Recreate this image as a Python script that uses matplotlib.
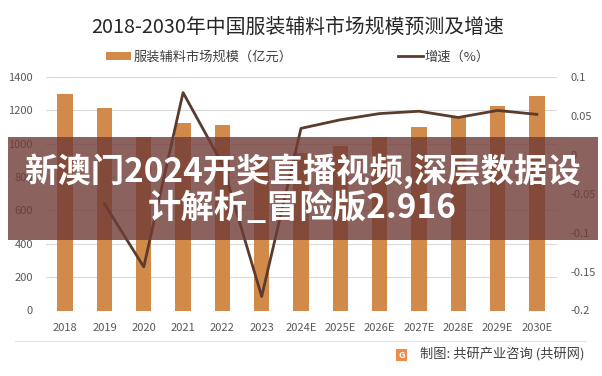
import matplotlib
matplotlib.use("Agg")
import matplotlib.pyplot as plt
import numpy as np
from matplotlib.patches import Rectangle, Patch
from matplotlib.lines import Line2D

plt.rcParams['font.family'] = ['Noto Sans CJK SC', 'DejaVu Sans']

# ---- data ----
years = ['2018', '2019', '2020', '2021', '2022', '2023', '2024E', '2025E',
         '2026E', '2027E', '2028E', '2029E', '2030E']
market_size = [1296, 1212, 1040, 1126, 1112, 910, 945, 985, 1040, 1100, 1160, 1224, 1288]
growth = [np.nan, -0.063, -0.144, 0.080, -0.012, -0.182, 0.034, 0.045, 0.053,
          0.056, 0.048, 0.057, 0.052]
left_ticks = [0, 200, 400, 600, 800, 1000, 1200, 1400]
right_ticks = [-0.2, -0.15, -0.1, -0.05, 0, 0.05, 0.1]
right_labels = ['-0.2', '-0.15', '-0.1', '-0.05', '0', '0.05', '0.1']

title = '2018-2030年中国服装辅料市场规模预测及增速'
bar_label = '服装辅料市场规模（亿元）'
line_label = '增速（%）'
source = '制图: 共研产业咨询 (共研网)'
banner_lines = ['新澳门2024开奖直播视频,深层数据设', '计解析_冒险版2.916']

W, H = 602, 376
fig = plt.figure(figsize=(W / 100, H / 100), dpi=100)
fig.patch.set_facecolor('white')

def fx(px):
    return px / W

def fy(py):
    return 1 - py / H

ax = fig.add_axes([fx(45.5), fy(310.5), fx(556.5) - fx(45.5), fy(77) - fy(310.5)])
x = np.arange(len(years))
bar_color = '#D28A4B'
line_color = '#5B3B2E'
ax.bar(x, market_size, width=0.39, color=bar_color, zorder=2)
ax.set_xlim(-0.5, len(years) - 0.5)
ax.set_ylim(0, 1400)
ax.set_yticks(left_ticks)
ax.set_yticklabels([str(v) for v in left_ticks])
ax.set_xticks(x)
ax.set_xticklabels(years)
ax.grid(axis='y', color='#D9D9D9', linewidth=0.8, zorder=0)
ax.set_axisbelow(True)
for s in ax.spines.values():
    s.set_visible(False)
ax.tick_params(axis='both', length=0, labelsize=8, labelcolor='#595959')
ax.tick_params(axis='y', pad=9)
ax.tick_params(axis='x', pad=9)

ax2 = ax.twinx()
ax2.plot(x, growth, color=line_color, linewidth=2.0, zorder=3)
ax2.set_ylim(-0.2, 0.1)
ax2.set_yticks(right_ticks)
ax2.set_yticklabels(right_labels)
for s in ax2.spines.values():
    s.set_visible(False)
ax2.tick_params(axis='y', length=0, labelsize=8, labelcolor='#595959', pad=10)

# title
fig.text(0.495, fy(27), title, ha='center', va='center', fontsize=14.3, color='#262626')

# legends
h1 = Patch(facecolor=bar_color, edgecolor='none')
h2 = Line2D([0], [0], color=line_color, linewidth=2.0)
leg1 = fig.legend([h1], [bar_label], loc='center left', bbox_to_anchor=(fx(94), fy(57)),
                  frameon=False, fontsize=9.5, handlelength=1.9, handleheight=0.5,
                  handletextpad=0.2, labelcolor='#404040')
leg2 = fig.legend([h2], [line_label], loc='center left', bbox_to_anchor=(fx(386), fy(57)),
                  frameon=False, fontsize=9.5, handlelength=1.9,
                  handletextpad=0.1, labelcolor='#404040')

# separator and source
fig.add_artist(Line2D([fx(15), fx(586)], [fy(341), fy(341)], color='#E3E3E3', linewidth=0.8))
fig.add_artist(Rectangle((fx(396), fy(361)), fx(11), fy(349) - fy(361),
                         facecolor='#EE8A4A', edgecolor='none'))
fig.text(fx(401.5), fy(355), 'G', ha='center', va='center', fontsize=6.5,
         color='white', fontweight='bold')
fig.text(fx(584), fy(355), source, ha='right', va='center', fontsize=9.5, color='#404040')

# overlay banner
fig.add_artist(Rectangle((fx(8), fy(240)), fx(598) - fx(8), fy(137) - fy(240),
                         facecolor=(0.44, 0.23, 0.21), alpha=0.8, edgecolor='none', zorder=10))
fig.text(0.502, fy(171), banner_lines[0], ha='center', va='center', fontsize=24,
         color='white', fontweight='bold', zorder=11)
fig.text(0.502, fy(208), banner_lines[1], ha='center', va='center', fontsize=24,
         color='white', fontweight='bold', zorder=11)

fig.savefig('out.png', dpi=100, facecolor='white')
